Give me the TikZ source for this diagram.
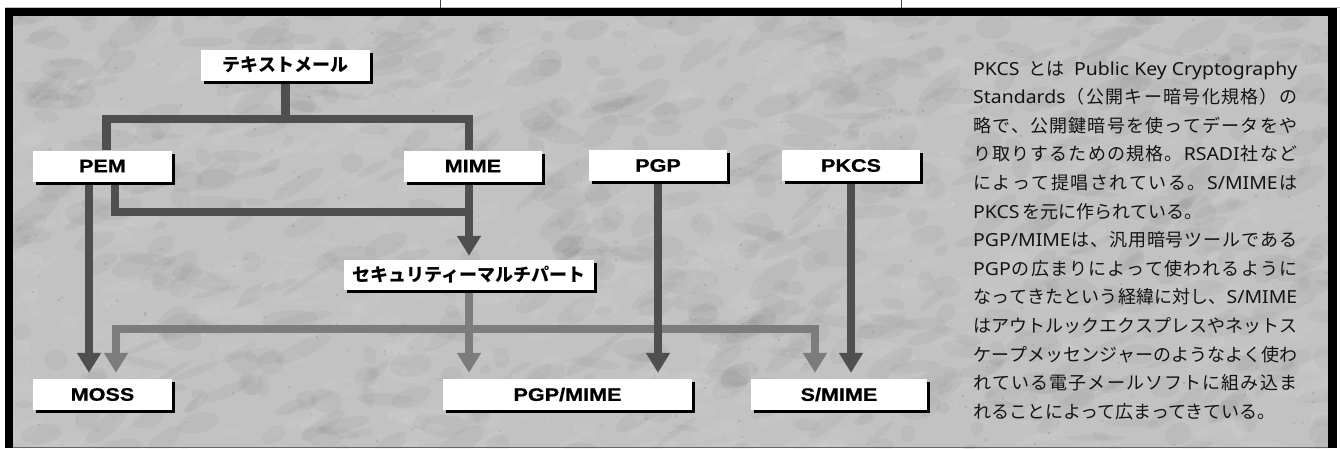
\documentclass[tikz,border=0pt]{standalone}
\usepackage{fontspec}
\usetikzlibrary{arrows.meta,shadows}
\newfontfamily\jpfont{Noto Sans CJK JP}
\newfontfamily\latfont{Noto Sans}[FakeStretch=1.08]
\newfontfamily\lblfont{Liberation Sans}[FakeStretch=1.2, FakeBold=0.8]
\newcommand\latrun[1]{{\latfont #1}}
\definecolor{stone}{HTML}{C2C2C2}
\definecolor{wiredark}{HTML}{4F4F4F}
\definecolor{wirelight}{HTML}{7C7C7C}
\pgfdeclarelayer{ground}
\pgfdeclarelayer{wires}
\pgfsetlayers{ground,wires,main}

% justify one line: glue between tokens (braced groups stay together)
\makeatletter
\def\spreadline#1{\hbox to 324pt{\sprd@first#1\sprd@stop}}
\def\sprd@first#1{#1\sprd@next}
\def\sprd@stopmac{\sprd@stop}
\def\sprd@next#1{\def\sprd@tmp{#1}\ifx\sprd@tmp\sprd@stopmac\else\hskip 0pt plus 1fil\relax #1\expandafter\sprd@next\fi}
\makeatother

\tikzset{
  box/.style={fill=white, inner sep=0pt, minimum height=31pt, text=black,
    drop shadow={shadow xshift=3pt, shadow yshift=-3pt, fill=black, opacity=1}},
  latin/.style={box, font=\lblfont\bfseries\fontsize{18}{18}\selectfont},
  kana/.style={box, font=\jpfont\bfseries\fontsize{18}{18}\selectfont},
  wire/.style={line width=8.5pt, line join=miter},
  dk/.style={wire, draw=wiredark},
  lt/.style={wire, draw=wirelight},
  tip/.style={-{Triangle[width=23pt,length=20pt]}},
  para/.style={anchor=base west, inner sep=0pt, text=black!92,
    font=\jpfont\fontsize{18}{18}\selectfont},
}

\begin{document}
\begin{tikzpicture}[x=1pt,y=-1pt]
\useasboundingbox (0,0) rectangle (1340,448);

% frame and stone background
\begin{pgfonlayer}{ground}
  \fill[white] (0,0) rectangle (1340,448);
  \draw[black!25, line width=0.8pt] (5,7.6) -- (1340,7.6);
  \draw[black!75, line width=0.9pt] (440,0) -- (440,8);
  \draw[black!75, line width=0.9pt] (901,0) -- (901,8);
  \fill[black] (5,8) rectangle (1337,448);
  \fill[stone] (13,16) rectangle (1328,448);
  \pgfmathsetseed{4242}
  \begin{scope}
    \clip (13,16) rectangle (1328,448);
    % soft darker mottling
    \foreach \i in {1,...,700}{
      \pgfmathsetmacro\px{random(0,1340)}
      \pgfmathsetmacro\py{random(0,460)}
      \pgfmathsetmacro\ra{random(6,30)}
      \pgfmathsetmacro\rb{random(3,12)}
      \pgfmathsetmacro\ang{random(0,60)-15}
      \fill[black, opacity=0.03] (\px,\py) circle[x radius=\ra, y radius=\rb, rotate=\ang];
    }
    % lighter patches
    \foreach \i in {1,...,500}{
      \pgfmathsetmacro\px{random(0,1340)}
      \pgfmathsetmacro\py{random(0,460)}
      \pgfmathsetmacro\ra{random(5,25)}
      \pgfmathsetmacro\rb{random(2,9)}
      \pgfmathsetmacro\ang{random(0,60)-15}
      \fill[white, opacity=0.05] (\px,\py) circle[x radius=\ra, y radius=\rb, rotate=\ang];
    }
    % grain
    \foreach \i in {1,...,500}{
      \pgfmathsetmacro\px{random(0,1340)}
      \pgfmathsetmacro\py{random(0,460)}
      \pgfmathsetmacro\rr{random(4,14)/10}
      \fill[black, opacity=0.1] (\px,\py) circle[radius=\rr];
    }
    \foreach \i in {1,...,400}{
      \pgfmathsetmacro\px{random(0,1340)}
      \pgfmathsetmacro\py{random(0,460)}
      \pgfmathsetmacro\rr{random(4,12)/10}
      \fill[white, opacity=0.22] (\px,\py) circle[radius=\rr];
    }
  \end{scope}
  \draw[black!60, line width=1pt] (13,447.5) -- (1328,447.5);
\end{pgfonlayer}

% boxes
\node[kana,  minimum width=169pt] (tm)   at (285.5,65)  {テキストメール};
\node[latin, minimum width=139pt] (pem)  at (102.5,166) {PEM};
\node[latin, minimum width=138pt] (mime) at (473,166)   {MIME};
\node[latin, minimum width=138pt] (pgp)  at (658,165.5) {PGP};
\node[latin, minimum width=138pt] (pkcs) at (851,165.5) {PKCS};
\node[kana,  minimum width=250pt, minimum height=30pt] (sec) at (469,275) {セキュリティーマルチパート};
\node[latin, minimum width=139pt] (moss)    at (102.5,394.5) {MOSS};
\node[latin, minimum width=249pt] (pgpmime) at (567.5,394.5) {PGP/MIME};
\node[latin, minimum width=176pt] (smime)   at (839,394.5)   {S/MIME};

% junction points
\coordinate (fork) at (285.5,119);
\coordinate (join) at (469,212);
\coordinate (bus)  at (469,329);

% connectors
\begin{pgfonlayer}{wires}
  \draw[lt, tip, shorten >=6pt] (sec.south) -- (sec.south |- pgpmime.north);
  \draw[lt, tip, shorten >=6pt] (bus) -| ([xshift=13.5pt]moss.north);
  \draw[lt, tip, shorten >=6pt] (bus) -| ([xshift=-24pt]smime.north);

  \draw[dk] (tm.south) -- (fork);
  \draw[dk] ([xshift=4pt]pem.north) |- (fork) -| ([xshift=-4pt]mime.north);
  \draw[dk, tip, shorten >=6pt] ([xshift=-13.5pt]pem.south) -- ([xshift=-13.5pt]moss.north);
  \draw[dk] ([xshift=12.5pt]pem.south) |- (join);
  \draw[dk, tip, shorten >=4pt] ([xshift=-4pt]mime.south) -- (sec.north);
  \draw[dk, tip, shorten >=6pt] (pgp.south) -- (pgp.south |- pgpmime.north);
  \draw[dk, tip, shorten >=6pt] (pkcs.south) -- (pkcs.south |- smime.north);
\end{pgfonlayer}

% explanatory text
\node[para] (l1)  at (973,75)    {\spreadline{{\latrun{PKCS}}{とは}{\latrun{Public Key Cryptography}}}};
\node[para] (l2)  at (973,103.6) {\spreadline{{\latrun{Standards}}（公開キー暗号化規格）の}};
\node[para] (l3)  at (973,132.2) {\spreadline{略で、公開鍵暗号を使ってデータをや}};
\node[para] (l4)  at (973,160.8) {\spreadline{り取りするための規格。{\latrun{RSADI}}社など}};
\node[para] (l5)  at (973,189.4) {\spreadline{によって提唱されている。{\latrun{S/MIME}}は}};
\node[para] (l6)  at (973,218)   {\latrun{PKCS}\,を元に作られている。};
\node[para] (l7)  at (973,246.6) {\spreadline{{\latrun{PGP/MIME}}は、汎用暗号ツールである}};
\node[para] (l8)  at (973,275.2) {\spreadline{{\latrun{PGP}}の広まりによって使われるように}};
\node[para] (l9)  at (973,303.8) {\spreadline{なってきたという経緯に対し、{\latrun{S/MIME}}}};
\node[para] (l10) at (973,332.4) {\spreadline{はアウトルックエクスプレスやネットス}};
\node[para] (l11) at (973,361)   {\spreadline{ケープメッセンジャーのようなよく使わ}};
\node[para] (l12) at (973,389.6) {\spreadline{れている電子メールソフトに組み込ま}};
\node[para] (l13) at (973,418.2) {れることによって広まってきている。};
\end{tikzpicture}
\end{document}
